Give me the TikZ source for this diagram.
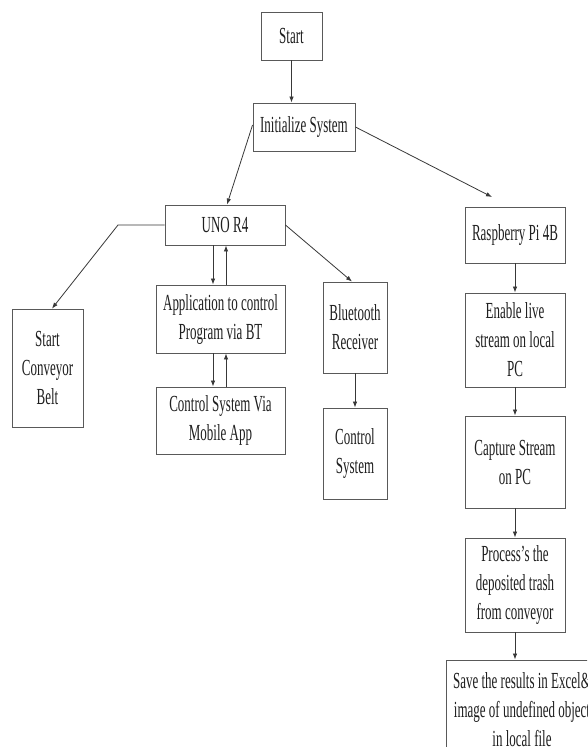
\documentclass[tikz,border=0pt]{standalone}
\usepackage{fontspec}
\setmainfont{Liberation Serif}[FakeStretch=0.565]
\usetikzlibrary{arrows.meta}
\tikzset{
  box/.style={draw=black!65, line width=0.9pt, inner sep=0pt, align=center,
    text=black!88, font=\fontsize{23}{29}\selectfont},
  arr/.style={draw=black!78, line width=0.8pt, -{Latex[length=6pt,width=4.5pt]}},
  ln/.style={draw=black!78, line width=0.8pt}
}
\begin{document}
\begin{tikzpicture}[x=1pt, y=-1pt]
\useasboundingbox (0,0) rectangle (587,747);
\clip (0,0) rectangle (587,747);
\fill[white] (0,0) rectangle (587,747);

\node[box, minimum width=61pt, minimum height=48pt] (start) at (291.5,36) {Start};
\node[box, minimum width=102pt, minimum height=48pt] (init) at (304,127) {Initialize System};
\node[box, minimum width=120pt, minimum height=40pt] (uno) at (225,225) {UNO R4};
\node[box, minimum width=100pt, minimum height=56pt] (rasp) at (515,235) {Raspberry Pi 4B};
\node[box, minimum width=71pt, minimum height=118pt] (conv) at (47.5,368) {Start\\Conveyor\\Belt};
\node[box, minimum width=129pt, minimum height=68pt] (app) at (220.5,319) {Application to control\\Program via BT};
\node[box, minimum width=129pt, minimum height=67pt] (mob) at (220.5,420.5) {Control System Via\\Mobile App};
\node[box, minimum width=64pt, minimum height=91pt] (bt) at (355,327.5) {Bluetooth\\Receiver};
\node[box, minimum width=64pt, minimum height=91pt] (ctrl) at (355,453.5) {Control\\System};
\node[box, minimum width=100pt, minimum height=94pt] (enable) at (515,340) {Enable live\\stream on local\\PC};
\node[box, minimum width=100pt, minimum height=92pt] (capture) at (515,462) {Capture Stream\\on PC};
\node[box, minimum width=100pt, minimum height=94pt] (process) at (515,585) {Process’s the\\deposited trash\\from conveyor};
\node[box, minimum width=152pt, minimum height=100pt] (save) at (522,710) {Save the results in Excel\&\\image of undefined object\\in local file};

\coordinate (rtip) at (492,197);
\coordinate (cbend) at (118,225);

\draw[arr] (start.south) -- (start.south |- init.north);
\draw[arr] ([yshift=2pt]init.west) -- ([xshift=2pt]uno.north);
\draw[arr] (init.east) -- (rtip);
\draw[arr] (uno.west) -- (cbend) -- ([xshift=4.5pt]conv.north);
\draw[arr] (uno.east) -- ([xshift=-3pt]bt.north);
\draw[arr] ([xshift=-12pt]uno.south) -- ([xshift=-12pt]uno.south |- app.north);
\draw[arr] ([xshift=1pt]uno.south |- app.north) -- ([xshift=1pt]uno.south);
\draw[arr] ([xshift=-12pt]uno.south |- app.south) -- ([xshift=-12pt]uno.south |- mob.north);
\draw[arr] ([xshift=1pt]uno.south |- mob.north) -- ([xshift=1pt]uno.south |- app.south);
\draw[arr] (bt.south) -- (ctrl.north);
\draw[arr] (rasp.south) -- (enable.north);
\draw[arr] (enable.south) -- (capture.north);
\draw[arr] (capture.south) -- (process.north);
\draw[arr] (process.south) -- (process.south |- save.north);
\end{tikzpicture}
\end{document}
